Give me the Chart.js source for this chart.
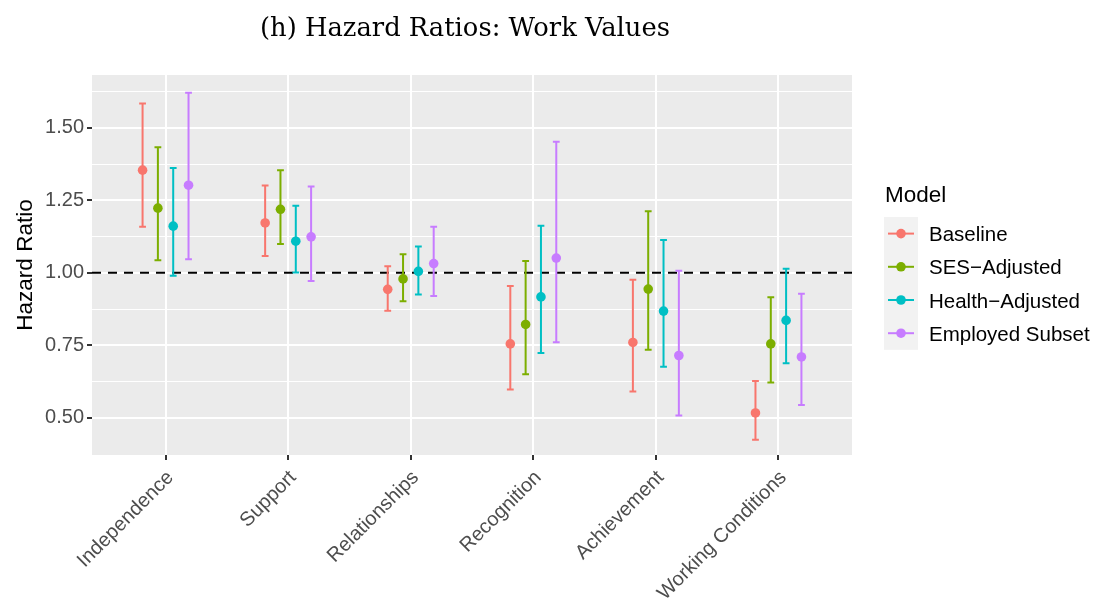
<!DOCTYPE html>
<html>
<head>
<meta charset="utf-8">
<script src="https://cdn.jsdelivr.net/npm/chart.js@4.4.1/dist/chart.umd.min.js"></script>
<style>
  html, body { margin: 0; padding: 0; background: #ffffff; }
  #wrap { width: 1099px; height: 604px; }
</style>
</head>
<body>
<div id="wrap"><canvas id="chart" width="1099" height="604"></canvas></div>
<script>
// Work-value domains and the four model specifications
const categories = ['Independence', 'Support', 'Relationships', 'Recognition', 'Achievement', 'Working Conditions'];
const models = ['Baseline', 'SES\u2212Adjusted', 'Health\u2212Adjusted', 'Employed Subset'];
const modelColors = ['#F8766D', '#7CAE00', '#00BFC4', '#C77CFF'];

// Hazard ratios with lower / upper confidence limits, one entry per domain
const baselineHR   = [1.354, 1.172, 0.943, 0.755, 0.760, 0.517];
const baselineLow  = [1.159, 1.058, 0.869, 0.598, 0.591, 0.425];
const baselineHigh = [1.584, 1.301, 1.023, 0.955, 0.976, 0.627];

const sesHR   = [1.223, 1.219, 0.979, 0.822, 0.944, 0.755];
const sesLow  = [1.043, 1.099, 0.902, 0.650, 0.735, 0.622];
const sesHigh = [1.433, 1.354, 1.064, 1.041, 1.212, 0.916];

const healthHR   = [1.161, 1.109, 1.005, 0.917, 0.868, 0.836];
const healthLow  = [0.990, 1.001, 0.925, 0.724, 0.676, 0.688];
const healthHigh = [1.361, 1.231, 1.091, 1.162, 1.113, 1.014];

const employedHR   = [1.302, 1.124, 1.032, 1.051, 0.715, 0.710];
const employedLow  = [1.047, 0.972, 0.920, 0.761, 0.508, 0.544];
const employedHigh = [1.621, 1.298, 1.159, 1.452, 1.007, 0.928];

// Axis breaks
const yMajorTicks = [0.50, 0.75, 1.00, 1.25, 1.50];
const yMinorTicks = [0.625, 0.875, 1.125, 1.375, 1.625];
const referenceLine = 1.0;

const estimates = [baselineHR, sesHR, healthHR, employedHR];
const lowers = [baselineLow, sesLow, healthLow, employedLow];
const uppers = [baselineHigh, sesHigh, healthHigh, employedHigh];
const dodge = [-0.1875, -0.0625, 0.0625, 0.1875];

const SANS = "'Liberation Sans', Arial, Helvetica, sans-serif";

const datasets = models.map((name, m) => ({
  label: name,
  data: estimates[m].map((v, i) => ({ x: i + 1 + dodge[m], y: v })),
  backgroundColor: modelColors[m],
  borderColor: modelColors[m],
  pointRadius: 4.8,
  pointHoverRadius: 4.8,
  pointBorderWidth: 0,
  showLine: false,
  errLow: lowers[m],
  errHigh: uppers[m],
  dodge: dodge[m]
}));

const panelPlugin = {
  id: 'panel',
  beforeDraw(chart) {
    const { ctx, chartArea: a } = chart;
    ctx.save();
    ctx.fillStyle = '#ffffff';
    ctx.fillRect(0, 0, chart.width, chart.height);
    ctx.fillStyle = '#EBEBEB';
    ctx.fillRect(a.left, a.top, a.right - a.left, a.bottom - a.top);
    ctx.restore();
  }
};

const intervalPlugin = {
  id: 'intervals',
  beforeDatasetsDraw(chart) {
    const { ctx, chartArea: a, scales } = chart;
    const xs = scales.x, ys = scales.y;
    ctx.save();
    // dashed reference line at HR = 1
    const y1 = ys.getPixelForValue(referenceLine);
    ctx.strokeStyle = '#000000';
    ctx.lineWidth = 2;
    ctx.setLineDash([9, 7]);
    ctx.beginPath();
    ctx.moveTo(a.left, y1);
    ctx.lineTo(a.right, y1);
    ctx.stroke();
    ctx.setLineDash([]);
    // error bars
    chart.data.datasets.forEach(ds => {
      ctx.strokeStyle = ds.borderColor;
      ctx.lineWidth = 2;
      ds.errLow.forEach((lo, i) => {
        const hi = ds.errHigh[i];
        const px = xs.getPixelForValue(i + 1 + ds.dodge);
        const pLo = ys.getPixelForValue(lo);
        const pHi = ys.getPixelForValue(hi);
        const cap = 3.4;
        ctx.beginPath();
        ctx.moveTo(px, pLo);
        ctx.lineTo(px, pHi);
        ctx.moveTo(px - cap, pLo);
        ctx.lineTo(px + cap, pLo);
        ctx.moveTo(px - cap, pHi);
        ctx.lineTo(px + cap, pHi);
        ctx.stroke();
      });
    });
    ctx.restore();
  }
};

const titleLegendPlugin = {
  id: 'titleLegend',
  afterDraw(chart) {
    const { ctx, chartArea: a } = chart;
    ctx.save();
    // plot title
    const title = '(h) Hazard Ratios: Work Values';
    let size = 24;
    ctx.font = size + "px 'DejaVu Serif', 'Liberation Serif', serif";
    size = size * 410 / ctx.measureText(title).width;
    ctx.font = size.toFixed(2) + "px 'DejaVu Serif', 'Liberation Serif', serif";
    ctx.fillStyle = '#000000';
    ctx.textAlign = 'center';
    ctx.textBaseline = 'alphabetic';
    ctx.fillText(title, (a.left + a.right) / 2 - 7, 36);

    // legend
    const lx = a.right + 32;
    ctx.textAlign = 'left';
    ctx.textBaseline = 'middle';
    ctx.font = '22.5px ' + SANS;
    ctx.fillText('Model', lx + 1, 196);
    const top = 217, step = 33.2;
    ctx.fillStyle = '#F2F2F2';
    ctx.fillRect(lx, top, 34, step * models.length);
    models.forEach((name, m) => {
      const cy = top + step * m + step / 2;
      ctx.strokeStyle = modelColors[m];
      ctx.lineWidth = 2;
      ctx.beginPath();
      ctx.moveTo(lx + 4, cy);
      ctx.lineTo(lx + 30, cy);
      ctx.stroke();
      ctx.fillStyle = modelColors[m];
      ctx.beginPath();
      ctx.arc(lx + 17, cy, 4.8, 0, Math.PI * 2);
      ctx.fill();
      ctx.fillStyle = '#000000';
      ctx.font = '20.5px ' + SANS;
      ctx.fillText(name, lx + 45, cy + 2);
    });
    ctx.restore();
  }
};

new Chart(document.getElementById('chart'), {
  type: 'scatter',
  data: { datasets },
  options: {
    responsive: false,
    devicePixelRatio: 1,
    animation: false,
    events: [],
    layout: { padding: { top: 75, right: 247, left: 0, bottom: 0 } },
    plugins: { legend: { display: false }, tooltip: { enabled: false }, title: { display: false } },
    scales: {
      x: {
        type: 'linear',
        min: 0.4,
        max: categories.length + 0.6,
        afterBuildTicks: s => { s.ticks = categories.map((c, i) => ({ value: i + 1 })); },
        afterFit: s => { s.height = 149; },
        border: { display: false },
        grid: { color: '#ffffff', lineWidth: 2, tickColor: '#333333', tickLength: 5, tickWidth: 2 },
        ticks: {
          autoSkip: false,
          minRotation: 45,
          maxRotation: 45,
          padding: 6,
          labelOffset: 5,
          color: '#4D4D4D',
          font: { family: SANS, size: 20 },
          callback: (v, i) => categories[i]
        }
      },
      y: {
        type: 'linear',
        min: 0.372,
        max: 1.682,
        afterBuildTicks: s => {
          s.ticks = yMajorTicks.concat(yMinorTicks).sort((p, q) => p - q).map(v => ({ value: v }));
        },
        afterFit: s => { s.width = 92; },
        border: { display: false },
        grid: {
          color: '#ffffff',
          lineWidth: c => (yMajorTicks.includes(c.tick.value) ? 2 : 1),
          tickColor: c => (yMajorTicks.includes(c.tick.value) ? '#333333' : 'rgba(0,0,0,0)'),
          tickLength: 5,
          tickWidth: 2
        },
        ticks: {
          padding: 3,
          color: '#4D4D4D',
          font: { family: SANS, size: 20 },
          callback: v => (yMajorTicks.includes(v) ? v.toFixed(2) : '')
        },
        title: {
          display: true,
          text: 'Hazard Ratio',
          color: '#000000',
          font: { family: SANS, size: 22.5 },
          padding: { top: 12, bottom: 0 }
        }
      }
    }
  },
  plugins: [panelPlugin, intervalPlugin, titleLegendPlugin]
});
</script>
</body>
</html>
